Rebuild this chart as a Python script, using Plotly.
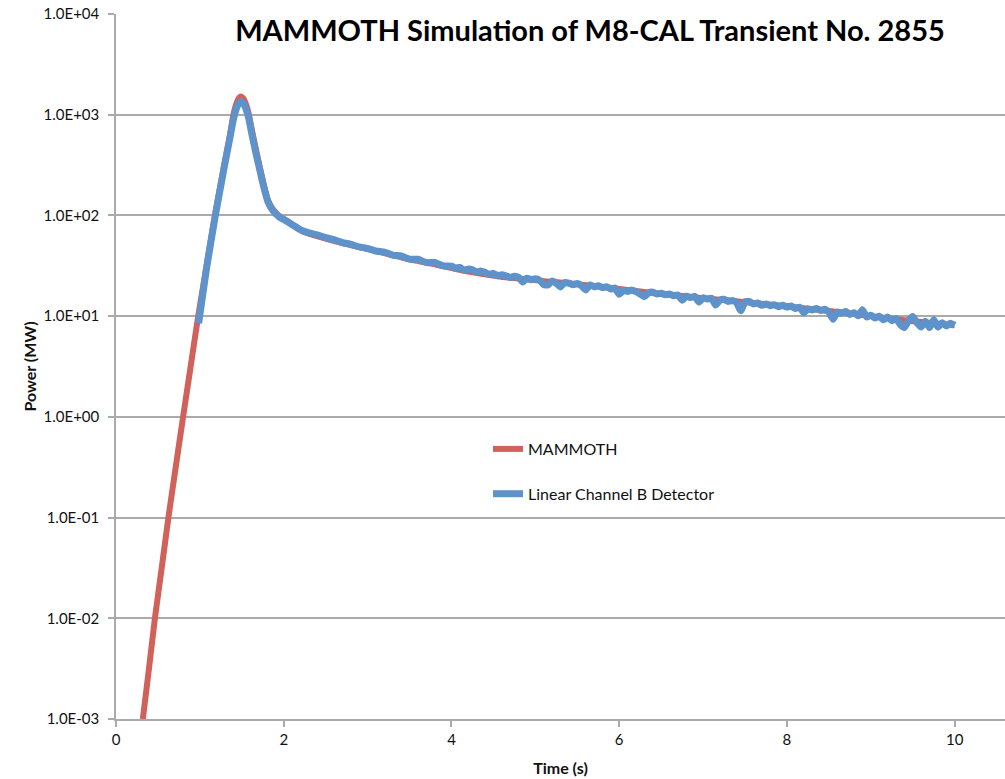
import plotly.graph_objects as go

# MAMMOTH simulation: time (s) and power (MW)
mammoth_t = [0.32, 0.393, 0.464, 0.545, 0.625, 0.712, 0.80, 0.89, 0.98, 1.08, 1.18, 1.29,
             1.36, 1.40, 1.44, 1.47, 1.49, 1.52, 1.56, 1.585, 1.62, 1.67, 1.75, 1.81,
             1.87, 1.95, 2.07, 2.23, 2.63, 3.03, 3.42, 3.82, 4.22, 4.61, 5.2, 5.8,
             6.4, 7.0, 7.6, 8.2, 8.8, 9.4, 10.0]
mammoth_p = [0.001, 0.00316, 0.01, 0.0316, 0.1, 0.316, 1.0, 3.16, 10.0, 31.6, 100, 316,
             631, 1000, 1318, 1479, 1514, 1445, 1202, 1000, 708, 447, 224, 143,
             115, 97.7, 85.1, 69.2, 55.0, 45.7, 38.0, 32.4, 27.5, 24.5, 21.9, 19.5,
             17.0, 15.1, 13.5, 12.0, 10.5, 9.12, 8.13]

# Linear Channel B detector signal: time (s) and power (MW)
detector_t = [0.985, 1.08, 1.18, 1.29, 1.36, 1.40, 1.44, 1.47, 1.49, 1.52, 1.56, 1.585,
              1.62, 1.67, 1.75, 1.81, 1.87, 1.95,
              2.0, 2.1, 2.2, 2.3, 2.4, 2.5, 2.6, 2.7, 2.8, 2.9,
              3.0, 3.1, 3.2, 3.3, 3.4, 3.5, 3.6, 3.7, 3.8, 3.9,
              4.0, 4.05, 4.1, 4.15, 4.2, 4.25, 4.3, 4.35, 4.4, 4.45,
              4.5, 4.55, 4.6, 4.65, 4.7, 4.75, 4.8, 4.85, 4.9, 4.95,
              5.0, 5.05, 5.1, 5.15, 5.2, 5.25, 5.3, 5.35, 5.4, 5.45,
              5.5, 5.55, 5.6, 5.65, 5.7, 5.75, 5.8, 5.85, 5.9, 5.95,
              6.0, 6.05, 6.1, 6.15, 6.2, 6.25, 6.3, 6.35, 6.4, 6.45,
              6.5, 6.55, 6.6, 6.65, 6.7, 6.75, 6.8, 6.85, 6.9, 6.95,
              7.0, 7.05, 7.1, 7.15, 7.2, 7.25, 7.3, 7.35, 7.4, 7.45,
              7.5, 7.55, 7.6, 7.65, 7.7, 7.75, 7.8, 7.85, 7.9, 7.95,
              8.0, 8.05, 8.1, 8.15, 8.2, 8.25, 8.3, 8.35, 8.4, 8.45,
              8.5, 8.55, 8.6, 8.65, 8.7, 8.75, 8.8, 8.85, 8.9, 8.95,
              9.0, 9.05, 9.1, 9.15, 9.2, 9.25, 9.3, 9.35, 9.4, 9.45,
              9.5, 9.55, 9.6, 9.65, 9.7, 9.75, 9.8, 9.85, 9.9, 9.95, 10.0]
detector_p = [8.5, 30, 95, 300, 600, 900, 1180, 1320, 1350, 1290, 1080, 900,
              640, 410, 210, 138, 112, 96,
              91, 81, 72, 67.2, 64.3, 60.2, 57.4, 53.8, 51.6, 48.7,
              47.1, 44.3, 43.2, 40.4, 39.6, 36.8, 36.7, 34.0, 34.1, 31.6,
              31.3, 30.0, 30.5, 28.6, 29.4, 28.9, 27.3, 28.0, 27.2, 26.0,
              26.6, 25.2, 25.8, 25.1, 24.2, 24.9, 24.3, 21.8, 23.8, 23.0,
              23.5, 22.8, 20.6, 20.4, 22.3, 21.2, 19.5, 21.6, 21.3, 20.5,
              21.1, 20.0, 18.2, 20.4, 19.6, 20.0, 19.2, 19.6, 18.6, 19.0,
              16.5, 18.0, 17.6, 18.2, 17.5, 16.6, 15.6, 17.0, 17.3, 16.6,
              16.9, 16.3, 16.6, 15.9, 16.2, 14.4, 15.8, 15.3, 15.7, 13.8,
              15.2, 14.8, 15.1, 12.9, 14.4, 14.7, 14.0, 14.3, 13.6, 11.3,
              13.9, 14.0, 13.2, 13.5, 12.8, 13.2, 12.7, 13.0, 12.4, 12.8,
              12.3, 12.6, 11.9, 12.3, 10.8, 11.8, 11.5, 11.9, 11.4, 11.7,
              11.0, 9.3, 11.0, 10.7, 11.1, 10.4, 10.8, 10.1, 11.6, 9.8,
              10.2, 9.6, 10.0, 9.2, 9.8, 9.0, 9.5, 8.3, 7.7, 9.0,
              9.9, 8.6, 7.8, 8.9, 7.7, 9.2, 7.8, 8.6, 8.0, 8.5, 8.1]

y_tickvals = [1e-3, 1e-2, 1e-1, 1e0, 1e1, 1e2, 1e3, 1e4]
y_ticktext = ["1.0E-03", "1.0E-02", "1.0E-01", "1.0E+00",
              "1.0E+01", "1.0E+02", "1.0E+03", "1.0E+04"]
x_tickvals = [0, 2, 4, 6, 8, 10]

RED = "#D0625B"
BLUE = "#5D92CB"
GRID = "#AAAAAA"
FONT = "Lato"

fig = go.Figure()
fig.add_trace(go.Scatter(
    x=mammoth_t, y=mammoth_p, mode="lines", name="MAMMOTH",
    line=dict(color=RED, width=6, shape="spline", smoothing=0.6),
    legendgroup="a",
))
fig.add_trace(go.Scatter(
    x=detector_t, y=detector_p, mode="lines", name="Linear Channel B Detector",
    line=dict(color=BLUE, width=7, shape="spline", smoothing=0.4),
    legendgroup="b",
))

fig.update_layout(
    width=1005, height=779,
    margin=dict(l=116, r=0, t=14, b=60),
    paper_bgcolor="white", plot_bgcolor="white",
    font=dict(family=FONT, size=14, color="#111111"),
    title=dict(
        text="<b>MAMMOTH Simulation of M8-CAL Transient No. 2855</b>",
        x=590 / 1005, xanchor="center", y=1 - 31 / 779, yanchor="middle",
        xref="container", yref="container",
        font=dict(family=FONT, size=29, color="#000000"),
    ),
    legend=dict(
        x=(488 - 116) / 889, xanchor="left",
        y=(719 - 432) / 705, yanchor="top",
        bgcolor="rgba(0,0,0,0)", tracegroupgap=21,
        font=dict(family=FONT, size=16, color="#111111"),
    ),
    showlegend=True,
)

fig.update_xaxes(
    range=[0, 10.6], tickvals=x_tickvals, ticktext=[str(v) for v in x_tickvals],
    showgrid=False, zeroline=False,
    showline=True, linecolor=GRID, linewidth=1.5,
    ticks="outside", ticklen=6, tickcolor=GRID, tickwidth=1.5,
    tickfont=dict(family=FONT, size=15),
    title=dict(text="<b>Time (s)</b>", font=dict(family=FONT, size=16), standoff=16),
)
fig.update_yaxes(
    type="log", range=[-3, 4], tickvals=y_tickvals, ticktext=y_ticktext,
    showgrid=True, gridcolor=GRID, gridwidth=1.5, zeroline=False,
    showline=True, linecolor=GRID, linewidth=1.5,
    ticks="outside", ticklen=6, tickcolor=GRID, tickwidth=1.5,
    ticklabelstandoff=6,
    tickfont=dict(family=FONT, size=15),
    title=dict(text="<b>Power (MW)</b>", font=dict(family=FONT, size=16), standoff=3),
)

fig.write_html("out.html")
